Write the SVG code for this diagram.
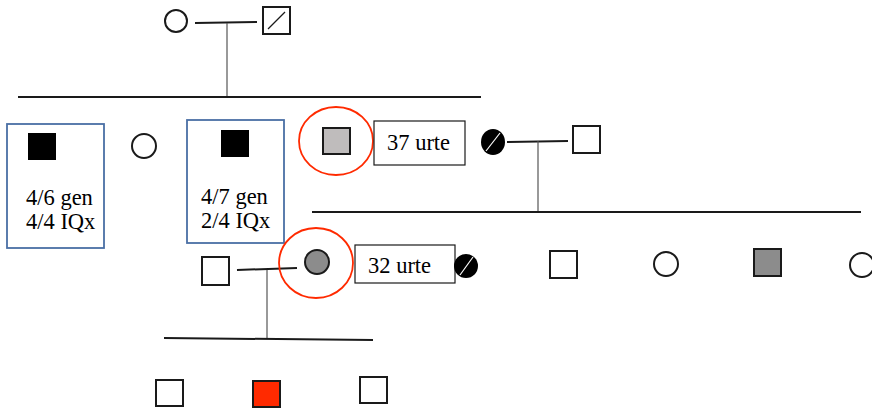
<svg xmlns="http://www.w3.org/2000/svg" width="872" height="408" viewBox="0 0 872 408">
<style>
.s{fill:#fff;stroke:#1a1a1a;stroke-width:2}
.ln{stroke:#1a1a1a;stroke-width:2;fill:none}
.vl{stroke:#555;stroke-width:1.2;fill:none}
.bb{fill:#fff;stroke:#4a6fa5;stroke-width:1.8}
.tb{fill:#fff;stroke:#1a1a1a;stroke-width:1.2}
.rc{fill:none;stroke:#ff2a00;stroke-width:1.8}
text{font-family:"Liberation Serif",serif;font-size:22.5px;fill:#000}
</style>
<rect width="872" height="408" fill="#fff"/>
<g id="connectors">
<line class="ln" x1="195" y1="23" x2="257" y2="22"/>
<line class="vl" x1="227" y1="23" x2="227" y2="97"/>
<line class="ln" x1="18" y1="97" x2="481" y2="97"/>
<line class="ln" x1="507" y1="142" x2="568" y2="141"/>
<line class="vl" x1="538" y1="141" x2="538" y2="212"/>
<line class="ln" x1="312" y1="212" x2="861" y2="212"/>
<line class="ln" x1="237" y1="270" x2="297" y2="268"/>
<line class="vl" x1="267" y1="270" x2="267" y2="339"/>
<line class="ln" x1="164" y1="338" x2="373" y2="340"/>
</g>
<g id="gp-female"><circle class="s" cx="176" cy="21" r="11"/></g>
<g id="gp-male"><rect class="s" x="263" y="7" width="27" height="27"/><line x1="268" y1="29" x2="285" y2="12" stroke="#1a1a1a" stroke-width="1.2"/></g>
<g id="child1"><rect class="bb" x="7" y="124" width="97" height="124"/><rect x="28" y="133" width="28" height="27" fill="#000"/><text x="26" y="205">4/6 gen</text><text x="26" y="229">4/4 IQx</text></g>
<g id="child2"><circle class="s" cx="144" cy="146" r="12"/></g>
<g id="child3"><rect class="bb" x="187" y="120" width="97" height="123"/><rect x="221" y="130" width="28" height="27" fill="#000"/><text x="201" y="204">4/7 gen</text><text x="201" y="228">2/4 IQx</text></g>
<g id="child4"><ellipse class="rc" cx="336" cy="141" rx="37" ry="34"/><rect x="323" y="128" width="27" height="26" fill="#bfbcbc" stroke="#1a1a1a" stroke-width="2"/><rect class="tb" x="374" y="121" width="91" height="44"/><text x="387" y="150">37 urte</text></g>
<g id="spouse-f"><ellipse cx="493" cy="142" rx="12" ry="13" fill="#000"/><line x1="486" y1="151" x2="500" y2="133" stroke="#fff" stroke-width="1.2"/></g>
<g id="spouse-m"><rect class="s" x="573" y="126" width="27" height="27"/></g>
<g id="g3-male"><rect class="s" x="202" y="257" width="27" height="28"/></g>
<g id="g3-female"><ellipse class="rc" cx="316" cy="263" rx="37" ry="35"/><circle cx="317" cy="262" r="12" fill="#8c8c8c" stroke="#1a1a1a" stroke-width="2"/><rect class="tb" x="355" y="245" width="100" height="38"/><text x="368" y="273">32 urte</text></g>
<g id="g3-s1"><circle cx="466" cy="266" r="12" fill="#000"/><line x1="460" y1="275" x2="473" y2="257" stroke="#fff" stroke-width="1.2"/></g>
<g id="g3-s2"><rect class="s" x="550" y="251" width="27" height="27"/></g>
<g id="g3-s3"><circle class="s" cx="666" cy="264" r="12"/></g>
<g id="g3-s4"><rect x="754" y="249" width="27" height="27" fill="#8c8c8c" stroke="#1a1a1a" stroke-width="2"/></g>
<g id="g3-s5"><circle class="s" cx="862" cy="265" r="12"/></g>
<g id="g4-1"><rect class="s" x="156" y="380" width="27" height="26"/></g>
<g id="g4-2"><rect x="253" y="381" width="27" height="26" fill="#ff2a00" stroke="#1a1a1a" stroke-width="2"/></g>
<g id="g4-3"><rect class="s" x="360" y="377" width="27" height="26"/></g>
</svg>
